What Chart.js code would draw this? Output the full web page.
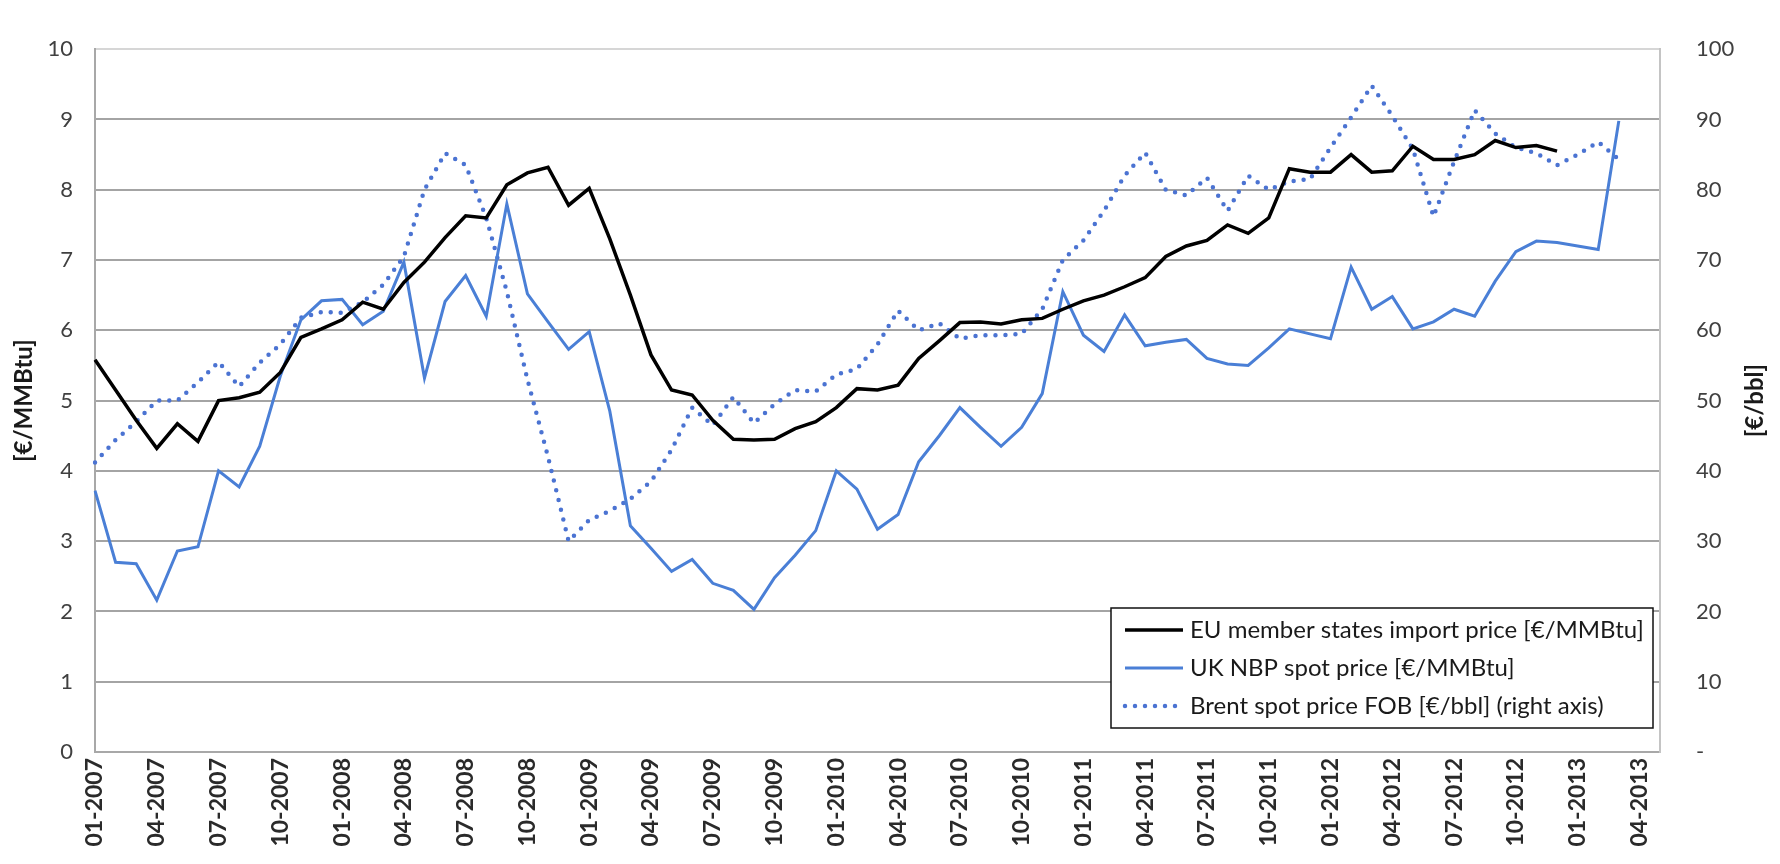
<!DOCTYPE html>
<html>
<head>
<meta charset="utf-8">
<title>Gas and oil prices 2007-2013</title>
<script src="https://cdn.jsdelivr.net/npm/chart.js@4.4.0/dist/chart.umd.min.js"></script>
<style>
  html, body { margin: 0; padding: 0; background: #fff; }
  #wrap { width: 1780px; height: 864px; }
</style>
</head>
<body>
<div id="wrap"><canvas id="priceChart" width="1780" height="864"></canvas></div>
<script>
// monthly categories, 01-2007 .. 05-2013
var months = [
  "01-2007","02-2007","03-2007","04-2007","05-2007","06-2007","07-2007","08-2007","09-2007","10-2007","11-2007","12-2007",
  "01-2008","02-2008","03-2008","04-2008","05-2008","06-2008","07-2008","08-2008","09-2008","10-2008","11-2008","12-2008",
  "01-2009","02-2009","03-2009","04-2009","05-2009","06-2009","07-2009","08-2009","09-2009","10-2009","11-2009","12-2009",
  "01-2010","02-2010","03-2010","04-2010","05-2010","06-2010","07-2010","08-2010","09-2010","10-2010","11-2010","12-2010",
  "01-2011","02-2011","03-2011","04-2011","05-2011","06-2011","07-2011","08-2011","09-2011","10-2011","11-2011","12-2011",
  "01-2012","02-2012","03-2012","04-2012","05-2012","06-2012","07-2012","08-2012","09-2012","10-2012","11-2012","12-2012",
  "01-2013","02-2013","03-2013","04-2013","05-2013"
];

// EU member states import price [€/MMBtu]
var euImport = [
  5.58, 5.15, 4.72, 4.32, 4.67, 4.42, 5.00, 5.04, 5.12, 5.40, 5.90, 6.02,
  6.15, 6.40, 6.30, 6.68, 6.97, 7.32, 7.63, 7.60, 8.07, 8.24, 8.32, 7.78,
  8.02, 7.30, 6.50, 5.65, 5.15, 5.08, 4.72, 4.45, 4.44, 4.45, 4.60, 4.70,
  4.90, 5.17, 5.15, 5.22, 5.60, 5.85, 6.11, 6.12, 6.09, 6.15, 6.17, 6.30,
  6.42, 6.50, 6.62, 6.75, 7.05, 7.20, 7.28, 7.50, 7.38, 7.60, 8.30, 8.25,
  8.25, 8.50, 8.25, 8.27, 8.62, 8.43, 8.43, 8.50, 8.70, 8.60, 8.63, 8.55
];

// UK NBP spot price [€/MMBtu]
var ukNbp = [
  3.72, 2.70, 2.68, 2.16, 2.86, 2.92, 4.00, 3.77, 4.35, 5.35, 6.15, 6.42,
  6.44, 6.08, 6.27, 6.97, 5.32, 6.41, 6.78, 6.20, 7.80, 6.52, 6.12, 5.73,
  5.98, 4.85, 3.22, 2.90, 2.57, 2.74, 2.40, 2.30, 2.03, 2.48, 2.80, 3.15,
  4.00, 3.74, 3.17, 3.38, 4.13, 4.50, 4.90, 4.62, 4.35, 4.62, 5.10, 6.55,
  5.93, 5.70, 6.22, 5.78, 5.83, 5.87, 5.60, 5.52, 5.50, 5.75, 6.02, 5.95,
  5.88, 6.90, 6.30, 6.48, 6.02, 6.12, 6.30, 6.20, 6.70, 7.12, 7.27, 7.25,
  7.20, 7.15, 8.98
];

// Brent spot price FOB [€/bbl] (right axis)
var brent = [
  41.2, 44.4, 47.0, 50.0, 50.0, 52.6, 55.5, 52.0, 55.4, 58.0, 61.8, 62.6,
  62.5, 64.0, 66.5, 70.5, 80.0, 85.2, 83.5, 76.0, 65.5, 53.0, 42.0, 30.0,
  33.0, 34.3, 36.0, 38.5, 43.0, 49.0, 46.5, 50.5, 46.8, 49.5, 51.5, 51.3,
  53.7, 54.5, 58.0, 62.8, 60.0, 61.0, 58.8, 59.3, 59.3, 59.5, 63.0, 70.0,
  72.8, 77.0, 82.0, 85.3, 80.0, 79.2, 81.7, 77.0, 82.0, 80.0, 81.2, 81.5,
  86.0, 90.3, 94.8, 90.5, 85.8, 76.2, 84.0, 91.3, 88.0, 86.0, 85.2, 83.5,
  85.0, 86.8, 84.3
];

var seriesNames = [
  "EU member states import price [€/MMBtu]",
  "UK NBP spot price [€/MMBtu]",
  "Brent spot price FOB [€/bbl] (right axis)"
];

var FONT = "Lato, 'Liberation Sans', sans-serif";

// legend drawn as a framed box inside the plot, lower right
var boxLegend = {
  id: 'boxLegend',
  afterDatasetsDraw: function(chart) {
    var ctx = chart.ctx, area = chart.chartArea;
    var w = 542, h = 120;
    var x = area.right - 7 - w, y = area.bottom - 24 - h;
    ctx.save();
    ctx.fillStyle = '#fff';
    ctx.fillRect(x, y, w, h);
    ctx.lineWidth = 1.5;
    ctx.strokeStyle = '#111';
    ctx.strokeRect(x, y, w, h);
    ctx.font = '24px ' + FONT;
    ctx.textBaseline = 'middle';
    ctx.fillStyle = '#1a1a1a';
    chart.data.datasets.forEach(function(ds, i) {
      var ry = y + 22 + i * 38;
      ctx.save();
      ctx.strokeStyle = ds.borderColor;
      ctx.lineWidth = ds.borderWidth;
      ctx.lineCap = ds.borderCapStyle || 'butt';
      ctx.setLineDash(ds.borderDash || []);
      ctx.beginPath();
      ctx.moveTo(x + 14, ry);
      ctx.lineTo(x + 72, ry);
      ctx.stroke();
      ctx.restore();
      ctx.fillText(ds.label, x + 79, ry);
    });
    ctx.restore();
  }
};

// right axis title reads bottom-to-top like the left one
var rightTitle = {
  id: 'rightTitle',
  afterDraw: function(chart) {
    var ctx = chart.ctx, area = chart.chartArea;
    ctx.save();
    ctx.translate(1755, (area.top + area.bottom) / 2);
    ctx.rotate(-Math.PI / 2);
    ctx.font = 'bold 24px ' + FONT;
    ctx.fillStyle = '#1a1a1a';
    ctx.textAlign = 'center';
    ctx.textBaseline = 'middle';
    ctx.fillText('[€/bbl]', 0, 0);
    ctx.restore();
  }
};

var ctx = document.getElementById('priceChart').getContext('2d');
var priceChart = new Chart(ctx, {
  type: 'line',
  data: {
    labels: months,
    datasets: [{
      label: seriesNames[0],
      data: euImport,
      yAxisID: 'y',
      borderColor: '#000000',
      borderWidth: 3.5,
      pointRadius: 0,
      tension: 0,
      fill: false
    }, {
      label: seriesNames[1],
      data: ukNbp,
      yAxisID: 'y',
      borderColor: '#4a7fd6',
      borderWidth: 3,
      pointRadius: 0,
      tension: 0,
      fill: false
    }, {
      label: seriesNames[2],
      data: brent,
      yAxisID: 'y2',
      borderColor: '#4b73d2',
      borderWidth: 4.5,
      borderDash: [0, 10],
      borderCapStyle: 'round',
      pointRadius: 0,
      tension: 0,
      fill: false
    }]
  },
  options: {
    responsive: false,
    animation: false,
    layout: { padding: { top: 20, right: 0, bottom: 0, left: 0 } },
    plugins: {
      legend: { display: false },
      tooltip: { enabled: false }
    },
    scales: {
      x: {
        grid: { display: false, drawTicks: false },
        border: { display: true, color: '#a8a8a8', width: 2 },
        ticks: {
          autoSkip: false,
          minRotation: 90,
          maxRotation: 90,
          padding: 6,
          color: '#2a2a2a',
          font: { family: FONT, size: 23, weight: 'bold' },
          callback: function(value, index) {
            return index % 3 === 0 ? this.getLabelForValue(value) : '';
          }
        },
        afterFit: function(scale) { scale.height = 112; }
      },
      y: {
        position: 'left',
        min: 0,
        max: 10,
        grid: {
          drawTicks: false,
          lineWidth: 2,
          color: function(c) { return c.tick.value === 10 ? '#d6d6d6' : '#a4a4a4'; }
        },
        border: { display: true, color: '#a8a8a8', width: 2 },
        ticks: {
          stepSize: 1,
          padding: 22,
          color: '#404040',
          font: { family: FONT, size: 22 }
        },
        title: {
          display: true,
          text: '[€/MMBtu]',
          color: '#1a1a1a',
          padding: { top: 10, bottom: 0 },
          font: { family: FONT, size: 24, weight: 'bold' }
        },
        afterFit: function(scale) { scale.width = 95; }
      },
      y2: {
        position: 'right',
        min: 0,
        max: 100,
        grid: { display: false, drawTicks: false },
        border: { display: true, color: '#c4c4c4', width: 2 },
        ticks: {
          stepSize: 10,
          padding: 36,
          color: '#404040',
          font: { family: FONT, size: 22 },
          callback: function(v) { return v === 0 ? '-' : v; }
        },
        afterFit: function(scale) { scale.width = 120; }
      }
    }
  },
  plugins: [boxLegend, rightTitle]
});
</script>
</body>
</html>
